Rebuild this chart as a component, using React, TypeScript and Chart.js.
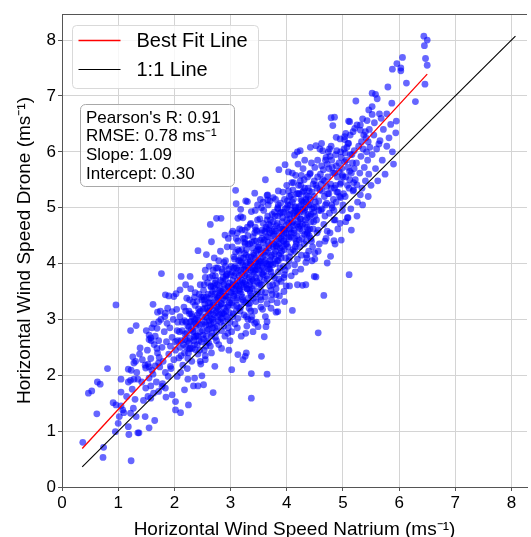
import React, { useEffect, useRef } from "react";
import { Chart, registerables } from "chart.js";

Chart.register(...registerables);

const FONT = "'Liberation Sans', Arial, sans-serif";

// Axis ticks
const xTicks = [0, 1, 2, 3, 4, 5, 6, 7, 8];
const yTicks = [0, 1, 2, 3, 4, 5, 6, 7, 8];
const xMax = 8.276;
const yMax = 8.467;

// Reference lines
const fitLineX = [0.36, 6.5];
const fitLineY = [0.69, 7.39];
const oneToOneX = [0.36, 8.07];
const oneToOneY = [0.36, 8.07];

// Texts
const xTitle = "Horizontal Wind Speed Natrium (ms\u207B\u00B9)";
const yTitle = "Horizontal Wind Speed Drone (ms\u207B\u00B9)";
const legendLabels = ["Best Fit Line", "1:1 Line"];
const statsLines = ["Pearson's R: 0.91", "RMSE: 0.78 ms\u207B\u00B9", "Slope: 1.09", "Intercept: 0.30"];

// Scatter values (x, y pairs)
const outliersLow = [
  0.37,0.80, 0.47,1.68, 0.53,1.72, 0.62,1.31, 0.63,1.88, 0.68,1.84, 0.73,0.53, 0.74,0.71,
  0.81,2.12, 0.91,1.51, 0.96,1.47, 0.95,0.99, 0.96,3.26, 1.00,1.14, 1.02,1.26, 1.05,1.45,
  1.05,1.93, 1.08,1.38, 1.10,1.33, 1.18,1.08, 1.19,0.94, 1.18,2.11, 1.22,1.32, 1.22,1.91,
  1.22,2.80, 1.23,0.47, 1.23,2.09, 1.26,2.33, 1.27,1.41, 1.28,1.93, 1.30,1.57, 1.31,2.25,
  1.32,1.26, 1.32,2.89, 1.35,0.97, 1.37,0.97, 1.35,1.93, 1.39,2.49, 1.43,2.28, 1.48,1.26,
  1.49,1.77, 1.49,2.13, 1.50,2.80, 1.53,1.62, 1.55,1.06, 1.55,2.15, 1.55,2.72, 1.58,1.59,
  1.58,1.81, 1.58,2.67, 1.60,2.09, 1.62,3.27, 1.63,1.68, 1.65,1.19, 1.66,2.17, 1.70,3.13,
  1.72,1.71, 1.72,2.22, 1.75,3.15, 1.77,3.82, 1.78,1.80, 1.84,1.77, 1.84,3.44, 1.85,1.61,
  1.90,3.42, 1.96,1.65, 1.99,3.41, 2.02,1.53, 2.02,1.38, 2.03,3.46, 2.11,1.33, 2.18,1.74,
  2.24,1.93, 2.25,1.47, 2.34,1.81, 2.36,1.95, 2.42,1.81, 2.49,1.99, 2.52,1.83, 2.69,1.69,
  3.37,1.59, 3.37,2.03, 3.65,2.02,
];
const edgePoints = [
  1.55,2.64, 1.69,2.84, 1.72,2.96, 1.84,3.11, 1.87,2.93, 1.96,3.14, 2.10,3.53, 2.12,3.77,
  2.28,3.77, 2.42,4.23, 2.57,4.16, 2.66,4.39, 2.75,4.81, 2.83,4.81, 2.64,4.70, 3.09,5.31,
  3.10,5.07, 3.27,5.12, 3.43,5.26, 3.13,4.81, 3.18,4.84, 3.37,4.93, 2.90,4.51, 2.96,4.45,
  3.02,4.54, 3.13,2.37, 3.26,2.34, 3.02,2.10, 2.72,2.16, 2.55,2.28, 2.46,2.25, 2.37,2.46,
  2.26,2.47, 2.19,2.64, 2.05,1.98, 1.93,2.16, 3.55,2.34, 3.60,2.69, 3.49,2.87, 3.37,2.99,
  3.28,3.05, 3.53,5.15, 3.66,5.23, 3.66,5.14, 3.30,5.11, 3.18,4.97, 4.66,3.43, 4.49,3.77,
  4.10,3.16, 3.96,3.32, 3.84,3.14, 3.81,3.44, 3.28,2.40, 3.22,2.28, 3.63,2.87, 3.43,2.93,
  4.72,4.01, 4.78,4.13, 4.84,4.41, 4.34,3.62, 4.19,3.62, 4.56,2.76, 4.52,3.76, 5.11,3.80,
  4.28,3.61, 4.97,4.42, 4.70,4.45, 5.09,4.82, 4.86,4.78, 4.50,4.19, 4.50,4.08, 4.36,4.10,
  5.19,5.32, 5.31,5.23, 5.25,5.41, 5.50,5.40, 3.65,2.96, 3.81,3.13,
];
const outliersHigh = [
  6.44,8.07, 6.50,8.00, 6.45,7.90, 6.47,7.67, 6.50,7.55, 6.46,7.21, 6.29,6.90, 6.06,7.69,
  5.96,7.58, 5.88,7.48, 6.03,7.50, 6.03,7.45, 6.13,7.23, 5.80,7.16, 5.87,6.87, 5.85,6.49,
  5.94,6.34, 5.90,5.78, 5.52,7.05, 5.58,7.03, 5.61,6.95, 5.23,6.91, 5.52,6.81, 5.46,6.75,
  5.52,6.67, 5.65,6.68, 5.78,6.68, 5.68,6.60, 5.56,6.52, 5.43,6.56, 5.35,6.59, 5.31,6.48,
  5.40,6.36, 5.37,6.30, 5.45,6.18, 5.64,6.14, 4.79,6.61, 4.85,6.62, 4.82,6.47, 5.10,6.55,
  5.12,6.54, 5.18,6.36, 5.05,6.33, 5.03,6.27, 4.88,6.26, 4.95,6.23, 5.09,6.15, 5.25,6.48,
  5.31,6.39, 4.42,6.08, 4.52,6.11, 4.62,6.15, 4.24,6.02, 4.14,5.94, 3.97,5.77, 3.86,5.68,
  4.03,5.64, 3.62,5.50, 5.08,4.82, 4.19,6.00,
];
const band10to20 = [
  1.05,1.70, 1.15,1.62, 1.25,1.75, 1.33,2.05, 1.42,1.88, 1.48,2.18, 1.28,2.22, 1.38,2.38,
  1.45,1.55, 1.18,1.88, 1.52,2.45, 1.55,1.95, 1.58,2.30, 1.60,2.85, 1.62,2.02, 1.64,2.55,
  1.66,2.70, 1.68,1.88, 1.70,2.40, 1.72,2.62, 1.74,2.15, 1.76,3.00, 1.78,2.50, 1.80,2.25,
  1.82,2.78, 1.84,2.05, 1.86,2.60, 1.88,3.20, 1.90,2.38, 1.92,2.85, 1.94,2.12, 1.96,2.68,
  1.98,3.00, 1.53,2.20, 1.63,2.92, 1.73,2.32, 1.83,3.05, 1.93,2.52, 1.99,2.28, 1.79,1.85,
  1.89,1.98, 1.69,2.48, 1.59,2.62,
];
const band20to25 = [
  2.02,2.45, 2.05,2.80, 2.08,2.31, 2.10,3.05, 2.12,2.62, 2.14,2.95, 2.15,2.18, 2.17,3.22,
  2.19,2.74, 2.21,2.51, 2.22,3.38, 2.24,2.88, 2.25,2.40, 2.27,3.10, 2.28,2.66, 2.30,2.97,
  2.31,2.25, 2.33,3.31, 2.34,2.79, 2.36,2.55, 2.37,3.48, 2.39,3.02, 2.40,2.71, 2.42,2.38,
  2.43,3.19, 2.45,2.90, 2.46,3.62, 2.48,2.60, 2.49,3.35, 2.04,3.18, 2.11,2.05, 2.18,2.98,
  2.23,2.12, 2.29,3.55, 2.35,2.93, 2.41,3.08, 2.47,2.20, 2.06,2.62, 2.26,2.86, 2.38,2.70,
  2.44,3.45, 2.20,3.62, 2.32,2.48, 2.16,2.55, 2.09,2.78,
  2.02,2.60, 2.06,2.95, 2.10,2.50, 2.14,2.80, 2.18,2.40, 2.22,2.75, 2.26,2.58, 2.30,3.10,
  2.34,2.62, 2.38,2.92, 2.42,2.70, 2.46,3.15, 2.50,2.80, 2.54,2.95, 2.58,3.20, 2.12,2.35,
  2.28,2.95, 2.44,2.62, 2.56,2.52, 2.20,3.15, 2.36,3.40, 2.52,3.40,
];
const band25to30 = [
  2.50,3.05, 2.51,2.72, 2.52,3.52, 2.53,2.45, 2.54,3.20, 2.55,3.88, 2.56,2.90, 2.57,3.40,
  2.58,2.60, 2.59,3.66, 2.60,3.12, 2.61,2.82, 2.62,3.95, 2.63,3.30, 2.64,2.52, 2.65,3.58,
  2.66,3.02, 2.67,2.75, 2.68,3.78, 2.69,3.25, 2.70,2.95, 2.71,4.10, 2.72,3.45, 2.73,2.68,
  2.74,3.70, 2.75,3.15, 2.76,2.88, 2.77,3.92, 2.78,3.38, 2.79,2.55, 2.80,3.60, 2.81,3.08,
  2.82,4.22, 2.83,3.28, 2.84,2.80, 2.85,3.85, 2.86,3.50, 2.87,2.98, 2.88,4.02, 2.89,3.20,
  2.90,2.70, 2.91,3.72, 2.92,3.42, 2.93,3.05, 2.94,4.30, 2.95,3.60, 2.96,2.85, 2.97,3.90,
  2.98,3.30, 2.99,2.62, 2.53,3.35, 2.58,3.02, 2.63,3.75, 2.68,2.85, 2.72,3.55, 2.77,3.22,
  2.81,3.48, 2.86,3.12, 2.91,3.95, 2.96,3.40, 2.55,2.35, 2.66,2.40, 2.84,2.48, 2.97,2.45,
  2.62,3.15, 2.74,3.92, 2.88,3.62, 2.79,4.05, 2.69,3.60, 2.93,3.80,
];
const band30to35 = [
  3.00,3.35, 3.01,3.95, 3.02,2.78, 3.03,4.30, 3.04,3.62, 3.05,3.10, 3.06,4.12, 3.07,3.45,
  3.08,2.92, 3.09,3.82, 3.10,4.45, 3.11,3.25, 3.12,3.70, 3.13,3.02, 3.14,4.05, 3.15,3.52,
  3.16,4.62, 3.17,3.15, 3.18,3.88, 3.19,2.70, 3.20,4.25, 3.21,3.40, 3.22,3.98, 3.23,3.65,
  3.24,3.08, 3.25,4.38, 3.26,3.78, 3.27,3.30, 3.28,4.15, 3.29,2.88, 3.30,3.55, 3.31,4.50,
  3.32,3.92, 3.33,3.20, 3.34,4.02, 3.35,3.68, 3.36,4.72, 3.37,3.42, 3.38,3.05, 3.39,4.28,
  3.40,3.85, 3.41,3.60, 3.42,4.40, 3.43,3.15, 3.44,4.10, 3.45,3.75, 3.46,2.95, 3.47,4.58,
  3.48,3.50, 3.49,4.00, 3.02,3.58, 3.06,3.78, 3.11,3.92, 3.15,4.22, 3.19,3.45, 3.23,4.10,
  3.28,3.62, 3.32,3.38, 3.36,3.88, 3.41,4.18, 3.45,3.32, 3.49,4.30, 3.04,4.58, 3.13,4.40,
  3.22,4.82, 3.31,3.00, 3.38,3.72, 3.47,3.90, 3.08,3.50, 3.17,3.68, 3.26,3.95, 3.34,4.35,
  3.43,3.95, 3.12,2.85, 3.27,2.75, 3.40,2.78, 3.20,3.80, 3.35,4.05, 3.09,4.20, 3.44,4.65,
];
const band35to40 = [
  3.50,3.65, 3.51,4.25, 3.52,4.80, 3.53,3.40, 3.54,4.05, 3.55,4.55, 3.56,3.82, 3.57,3.18,
  3.58,4.38, 3.59,4.95, 3.60,3.70, 3.61,4.15, 3.62,3.48, 3.63,4.65, 3.64,4.00, 3.65,3.28,
  3.66,4.48, 3.67,5.05, 3.68,3.90, 3.69,4.28, 3.70,3.60, 3.71,4.78, 3.72,4.12, 3.73,3.35,
  3.74,4.58, 3.75,3.98, 3.76,5.18, 3.77,4.35, 3.78,3.75, 3.79,4.85, 3.80,4.22, 3.81,3.55,
  3.82,4.68, 3.83,4.05, 3.84,5.00, 3.85,3.85, 3.86,4.45, 3.87,3.42, 3.88,4.90, 3.89,4.18,
  3.90,3.68, 3.91,4.62, 3.92,4.30, 3.93,5.28, 3.94,3.95, 3.95,4.52, 3.96,3.80, 3.97,4.98,
  3.98,4.10, 3.99,3.60, 3.52,4.02, 3.56,4.60, 3.60,4.42, 3.64,3.78, 3.68,4.70, 3.72,3.85,
  3.76,4.50, 3.80,4.00, 3.84,4.40, 3.88,3.92, 3.92,4.75, 3.96,4.25, 3.54,3.22, 3.62,3.05,
  3.70,4.05, 3.78,4.62, 3.86,4.15, 3.94,4.40, 3.58,3.92, 3.66,4.20, 3.74,4.88, 3.82,3.65,
  3.90,4.92, 3.98,4.55, 3.55,5.00, 3.65,5.22, 3.85,5.30, 3.72,3.20, 3.83,3.30, 3.95,3.50,
];
const band40to45 = [
  4.00,4.35, 4.01,4.88, 4.02,3.95, 4.03,5.30, 4.04,4.60, 4.05,4.12, 4.06,5.05, 4.07,4.48,
  4.08,3.78, 4.09,5.45, 4.10,4.75, 4.11,4.25, 4.12,5.15, 4.13,4.55, 4.14,3.98, 4.15,4.95,
  4.16,5.58, 4.17,4.40, 4.18,4.85, 4.19,4.08, 4.20,5.25, 4.21,4.65, 4.22,5.02, 4.23,4.30,
  4.24,5.48, 4.25,4.80, 4.26,4.15, 4.27,5.12, 4.28,4.58, 4.29,5.70, 4.30,4.92, 4.31,4.35,
  4.32,5.35, 4.33,4.70, 4.34,4.02, 4.35,5.10, 4.36,4.52, 4.37,5.55, 4.38,4.88, 4.39,4.22,
  4.40,5.30, 4.41,4.62, 4.42,5.05, 4.43,4.45, 4.44,5.80, 4.45,4.98, 4.46,4.30, 4.47,5.42,
  4.48,4.75, 4.49,5.20, 4.03,4.72, 4.08,5.22, 4.13,4.85, 4.18,4.50, 4.23,4.92, 4.28,5.28,
  4.33,5.00, 4.38,4.60, 4.43,4.88, 4.48,5.00, 4.05,3.60, 4.15,3.85, 4.25,3.90, 4.35,4.15,
  4.45,4.05, 4.10,5.62, 4.20,5.78, 4.32,5.85, 4.42,5.62,
];
const band45to50 = [
  4.50,4.85, 4.52,5.40, 4.54,4.55, 4.55,5.85, 4.57,5.12, 4.58,4.35, 4.60,5.60, 4.61,4.95,
  4.63,5.30, 4.64,6.02, 4.66,4.70, 4.67,5.48, 4.69,5.05, 4.70,5.90, 4.72,4.58, 4.73,5.25,
  4.75,5.70, 4.76,4.90, 4.78,5.42, 4.79,6.10, 4.81,5.00, 4.82,5.62, 4.84,4.78, 4.85,5.35,
  4.87,5.95, 4.88,5.10, 4.90,5.55, 4.91,4.62, 4.93,5.80, 4.94,5.20, 4.96,6.00, 4.97,5.45,
  4.99,4.95, 4.53,5.02, 4.62,5.75, 4.71,5.38, 4.80,5.85, 4.89,5.28, 4.98,5.70, 4.56,4.22,
  4.68,4.40, 4.77,4.55, 4.86,4.35, 4.95,4.72, 4.59,6.05, 4.74,6.00,
];
const band50to60 = [
  5.00,5.55, 5.02,6.05, 5.04,5.20, 5.06,5.85, 5.08,5.40, 5.10,6.15, 5.12,5.65, 5.14,4.98,
  5.16,5.95, 5.18,5.30, 5.20,6.02, 5.22,5.50, 5.24,5.80, 5.26,5.10, 5.28,6.10, 5.30,5.62,
  5.32,5.92, 5.34,5.35, 5.36,6.05, 5.38,5.72, 5.40,5.48, 5.42,6.00, 5.44,5.85, 5.46,5.60,
  5.48,6.08, 5.05,4.75, 5.15,4.60, 5.25,4.85, 5.35,5.05, 5.45,5.20, 5.03,6.22, 5.13,6.30,
  5.21,6.42, 5.33,6.18, 5.41,6.25, 5.47,6.40, 5.52,5.95, 5.55,6.30, 5.58,5.70, 5.60,6.05,
  5.62,5.48, 5.66,6.20, 5.70,5.85, 5.72,6.40, 5.75,5.60, 5.78,6.10, 5.82,6.25, 5.88,6.00,
  5.95,6.55,
];
const core22to30 = [
  2.21,2.95, 2.23,2.62, 2.26,3.15, 2.28,2.48, 2.30,2.82, 2.32,3.05, 2.35,2.68, 2.37,3.25,
  2.39,2.88, 2.41,2.55, 2.44,3.12, 2.46,2.78, 2.48,3.40, 2.50,2.92, 2.52,2.65, 2.54,3.28,
  2.56,3.05, 2.58,2.80, 2.60,3.45, 2.62,2.98, 2.64,3.22, 2.66,2.70, 2.68,3.50, 2.70,3.08,
  2.72,2.85, 2.74,3.35, 2.76,3.62, 2.78,2.98, 2.80,3.25, 2.82,3.70, 2.84,3.02, 2.86,3.38,
  2.88,2.88, 2.90,3.55, 2.92,3.15, 2.94,3.82, 2.96,3.25, 2.98,3.65, 2.99,2.95, 2.24,2.30,
  2.33,2.78, 2.42,2.98, 2.51,3.18, 2.57,2.70, 2.63,3.38, 2.69,3.88, 2.75,2.62, 2.83,3.50,
  2.89,3.35, 2.95,2.75, 2.27,3.35, 2.36,3.00, 2.45,2.45, 2.53,3.62, 2.61,2.58, 2.67,3.18,
  2.73,3.78, 2.79,3.42, 2.85,3.10, 2.91,4.05, 2.97,3.50, 2.40,3.32, 2.55,3.75, 2.65,2.92,
  2.77,3.05, 2.87,3.75,
];
const core30to38 = [
  3.01,3.48, 3.03,3.85, 3.05,3.25, 3.07,4.08, 3.09,3.62, 3.11,3.38, 3.13,4.25, 3.15,3.78,
  3.17,3.50, 3.19,4.02, 3.21,3.70, 3.23,3.32, 3.25,4.18, 3.27,3.88, 3.29,3.55, 3.31,4.35,
  3.33,3.75, 3.35,3.48, 3.37,4.12, 3.39,3.92, 3.41,3.38, 3.43,4.55, 3.45,4.02, 3.47,3.68,
  3.49,4.25, 3.51,3.88, 3.53,4.42, 3.55,3.62, 3.57,4.12, 3.59,3.85, 3.61,4.58, 3.63,4.22,
  3.65,3.72, 3.67,4.38, 3.69,3.98, 3.71,4.68, 3.73,4.15, 3.75,3.78, 3.77,4.52, 3.79,4.08,
  3.04,3.05, 3.12,4.55, 3.18,3.22, 3.24,3.58, 3.30,4.65, 3.36,3.15, 3.42,3.82, 3.48,4.78,
  3.54,3.35, 3.60,4.02, 3.66,4.85, 3.72,3.52, 3.78,4.92, 3.06,3.92, 3.14,3.60, 3.22,4.45,
  3.28,4.02, 3.34,3.62, 3.40,4.48, 3.46,4.22, 3.52,3.75, 3.58,4.72, 3.64,4.48, 3.70,3.90,
  3.76,4.30, 3.10,3.15, 3.20,4.60, 3.32,3.28, 3.44,4.95, 3.56,3.95, 3.68,4.60, 3.74,3.45,
  3.26,4.35, 3.38,3.55, 3.50,4.05, 3.62,3.40, 3.16,4.05, 3.46,3.45,
];
const core38to46 = [
  3.81,4.32, 3.83,4.72, 3.85,4.05, 3.87,4.55, 3.89,5.08, 3.91,4.22, 3.93,4.82, 3.95,4.40,
  3.97,3.88, 3.99,4.68, 4.01,5.12, 4.03,4.48, 4.05,4.88, 4.07,4.20, 4.09,4.72, 4.11,5.32,
  4.13,4.60, 4.15,5.02, 4.17,4.35, 4.19,4.92, 4.21,5.40, 4.23,4.62, 4.25,5.15, 4.27,4.45,
  4.29,4.98, 4.31,5.50, 4.33,4.78, 4.35,5.22, 4.37,4.55, 4.39,5.05, 4.41,5.60, 4.43,4.75,
  4.45,5.28, 4.47,4.62, 4.49,5.48, 4.51,5.10, 4.53,4.78, 4.55,5.55, 4.57,4.95, 4.59,5.32,
  3.84,4.98, 3.90,4.45, 3.96,5.15, 4.02,4.30, 4.08,4.95, 4.14,4.22, 4.20,4.75, 4.26,5.58,
  4.32,4.52, 4.38,5.35, 4.44,4.40, 4.50,5.72, 4.56,4.60, 3.88,4.28, 3.94,4.62, 4.00,5.00,
  4.06,4.62, 4.12,4.90, 4.18,5.25, 4.24,4.68, 4.30,5.10, 4.36,4.82, 4.42,5.15, 4.48,4.92,
  4.54,5.35, 3.86,3.72, 4.04,4.05, 4.22,4.42, 4.40,4.50,
];
const core46to52 = [
  4.61,5.42, 4.63,4.98, 4.65,5.68, 4.67,5.20, 4.69,5.85, 4.71,5.08, 4.73,5.55, 4.75,5.25,
  4.77,5.92, 4.79,5.35, 4.81,5.72, 4.83,5.15, 4.85,5.62, 4.87,5.40, 4.89,6.02, 4.91,5.28,
  4.93,5.65, 4.95,5.42, 4.97,5.90, 4.99,5.58, 5.01,5.25, 5.03,5.82, 5.05,5.55, 5.07,6.08,
  5.09,5.72, 5.11,5.35, 5.13,5.95, 5.15,5.62, 5.17,5.80, 5.19,5.45, 4.64,5.50, 4.72,5.78,
  4.80,5.05, 4.88,5.75, 4.96,5.18, 5.04,5.98, 5.12,5.50, 5.20,5.70, 4.68,4.85, 4.84,4.95,
  5.00,5.05, 4.76,6.05,
];
const coreDense = [
  2.60,3.30, 2.62,2.90, 2.64,3.10, 2.66,3.45, 2.68,3.00, 2.70,3.30, 2.72,3.65, 2.74,3.12,
  2.76,3.40, 2.78,3.18, 2.80,3.52, 2.82,2.95, 2.84,3.28, 2.86,3.68, 2.88,3.10, 2.90,3.42,
  2.92,3.78, 2.94,3.22, 2.96,3.58, 2.98,3.12, 3.00,3.80, 3.02,3.30, 3.04,3.70, 3.06,3.42,
  3.08,3.95, 3.10,3.60, 3.12,3.35, 3.14,3.88, 3.16,3.55, 3.18,4.10, 3.20,3.62, 3.22,3.35,
  3.24,3.90, 3.26,3.68, 3.28,4.25, 3.30,3.80, 3.32,4.12, 3.34,3.52, 3.36,4.00, 3.38,4.38,
  3.40,3.70, 3.42,4.15, 3.44,3.88, 3.46,4.40, 3.48,3.95, 3.50,4.30, 3.52,3.62, 3.54,4.18,
  3.56,4.45, 3.58,3.80, 3.60,4.28, 3.62,4.05, 3.64,4.62, 3.66,3.95, 3.68,4.32, 3.70,4.55,
  3.72,4.00, 3.74,4.40, 3.76,4.75, 3.78,4.18, 3.80,4.58, 3.82,4.30, 3.84,4.85, 3.86,4.35,
  3.88,4.65, 3.90,4.10, 3.92,4.50, 3.94,4.92, 3.96,4.60, 3.98,4.35, 4.00,4.78, 4.02,5.05,
  4.04,4.45, 4.06,4.80, 4.08,4.55, 4.10,5.10, 4.12,4.68, 4.14,4.45, 4.16,5.00, 4.18,4.70,
  4.20,4.95, 4.22,5.25, 4.24,4.80, 4.26,5.05, 4.28,4.70, 4.30,5.30, 4.32,4.95, 4.34,5.15,
  4.36,4.65, 4.38,5.20, 4.40,4.85, 2.65,3.60, 2.75,2.78, 2.85,3.90, 2.95,3.00, 3.05,3.55,
  3.15,3.20, 3.25,4.45, 3.35,3.30, 3.45,4.60, 3.55,3.50, 3.65,4.78, 3.75,3.62, 3.85,5.05,
  3.95,3.75, 4.05,5.20, 4.15,4.30, 4.25,5.40, 4.35,4.40, 3.58,5.10, 3.70,5.12, 3.80,5.15,
  3.48,5.05, 4.00,5.40, 4.12,5.45, 3.35,4.70, 3.26,4.60,
];

const scatterGroups = [
  outliersLow, edgePoints, outliersHigh, band10to20, band20to25, band25to30,
  band30to35, band35to40, band40to45, band45to50, band50to60,
  core22to30, core30to38, core38to46, core46to52, coreDense,
];

function toPoints(flat: number[]) {
  const pts: { x: number; y: number }[] = [];
  for (let i = 0; i + 1 < flat.length; i += 2) pts.push({ x: flat[i], y: flat[i + 1] });
  return pts;
}
function zipPoints(xs: number[], ys: number[]) {
  return xs.map((x, i) => ({ x, y: ys[i] }));
}

const decorPlugin = {
  id: "decor",
  afterDraw(chart: any) {
    const ctx: CanvasRenderingContext2D = chart.ctx;
    const ca = chart.chartArea;
    ctx.save();
    // top spine
    ctx.strokeStyle = "#555555";
    ctx.lineWidth = 1;
    ctx.beginPath();
    ctx.moveTo(ca.left, Math.round(ca.top) + 0.5);
    ctx.lineTo(ca.right, Math.round(ca.top) + 0.5);
    ctx.stroke();

    const rrect = (x: number, y: number, w: number, h: number, r: number) => {
      ctx.beginPath();
      ctx.moveTo(x + r, y);
      ctx.lineTo(x + w - r, y);
      ctx.arcTo(x + w, y, x + w, y + r, r);
      ctx.lineTo(x + w, y + h - r);
      ctx.arcTo(x + w, y + h, x + w - r, y + h, r);
      ctx.lineTo(x + r, y + h);
      ctx.arcTo(x, y + h, x, y + h - r, r);
      ctx.lineTo(x, y + r);
      ctx.arcTo(x, y, x + r, y, r);
      ctx.closePath();
    };

    // legend
    const lx = ca.left + 10.5;
    const ly = ca.top + 11.5;
    rrect(lx, ly, 186, 63, 4);
    ctx.fillStyle = "rgba(255,255,255,0.8)";
    ctx.fill();
    ctx.strokeStyle = "#d9d9d9";
    ctx.stroke();
    const colors = ["#ff0000", "#000000"];
    const widths = [1.3, 1.1];
    ctx.font = `20px ${FONT}`;
    ctx.textBaseline = "middle";
    ctx.textAlign = "left";
    legendLabels.forEach((lab, i) => {
      const yy = ly + 15 + i * 29;
      ctx.strokeStyle = colors[i];
      ctx.lineWidth = widths[i];
      ctx.beginPath();
      ctx.moveTo(lx + 6, yy);
      ctx.lineTo(lx + 48, yy);
      ctx.stroke();
      ctx.fillStyle = "#000";
      ctx.fillText(lab, lx + 64, yy + 1);
    });

    // stats box
    const sx = ca.left + 18.5;
    const sy = ca.top + 90.5;
    rrect(sx, sy, 154, 82, 5);
    ctx.fillStyle = "rgba(255,255,255,0.8)";
    ctx.fill();
    ctx.strokeStyle = "#a8a8a8";
    ctx.lineWidth = 1;
    ctx.stroke();
    ctx.font = `17px ${FONT}`;
    ctx.textBaseline = "alphabetic";
    ctx.fillStyle = "#000";
    statsLines.forEach((t, i) => {
      ctx.fillText(t, sx + 5.5, sy + 18.2 + i * 18.7);
    });
    ctx.restore();
  },
};

export default function App() {
  const ref = useRef<HTMLCanvasElement>(null);
  useEffect(() => {
    const canvas = ref.current!;
    Chart.defaults.font.family = FONT;
    const scatterPoints = scatterGroups.flatMap(toPoints);
    const chart = new Chart(canvas, {
      type: "scatter",
      data: {
        datasets: [
          {
            label: legendLabels[0],
            data: zipPoints(fitLineX, fitLineY),
            showLine: true,
            borderColor: "#ff0000",
            borderWidth: 1.3,
            pointRadius: 0,
            fill: false,
          } as any,
          {
            label: legendLabels[1],
            data: zipPoints(oneToOneX, oneToOneY),
            showLine: true,
            borderColor: "#000000",
            borderWidth: 1.1,
            pointRadius: 0,
            fill: false,
          } as any,
          {
            label: "data",
            data: scatterPoints,
            backgroundColor: "rgba(0,0,255,0.6)",
            borderWidth: 0,
            pointRadius: 3.4,
          } as any,
        ],
      },
      options: {
        responsive: false,
        animation: false,
        devicePixelRatio: 1,
        layout: { padding: { top: 14, right: 0, left: 0, bottom: 0 } },
        plugins: { legend: { display: false }, tooltip: { enabled: false } },
        scales: {
          x: {
            type: "linear",
            min: 0,
            max: xMax,
            afterFit: (s: any) => {
              s.height = 560 - 487;
            },
            afterBuildTicks: (s: any) => {
              s.ticks = xTicks.map((v) => ({ value: v }));
            },
            ticks: {
              font: { size: 17, family: FONT },
              color: "#000",
              padding: 2,
              callback: (v: any) => String(v),
            },
            grid: { color: "#d4d4d4", lineWidth: 1, tickLength: 4, tickColor: "#555555" },
            border: { color: "#555555", width: 1 },
            title: {
              display: true,
              text: xTitle,
              font: { size: 19, family: FONT },
              color: "#000",
              padding: { top: 0, bottom: 18.6 },
            },
          },
          y: {
            type: "linear",
            min: 0,
            max: yMax,
            afterFit: (s: any) => {
              s.width = 62;
            },
            afterBuildTicks: (s: any) => {
              s.ticks = yTicks.map((v) => ({ value: v }));
            },
            ticks: {
              font: { size: 17, family: FONT },
              color: "#000",
              padding: 2,
              callback: (v: any) => String(v),
            },
            grid: { color: "#d4d4d4", lineWidth: 1, tickLength: 4, tickColor: "#555555" },
            border: { color: "#555555", width: 1 },
            title: {
              display: true,
              text: yTitle,
              font: { size: 19, family: FONT },
              color: "#000",
              padding: { top: 13.6, bottom: 0 },
            },
          },
        },
      },
      plugins: [decorPlugin],
    });
    return () => chart.destroy();
  }, []);
  return (
    <div
      style={{
        position: "fixed",
        left: 0,
        top: 0,
        width: 531,
        height: 537,
        overflow: "hidden",
        background: "#fff",
      }}
    >
      <canvas ref={ref} width={531} height={560} style={{ display: "block", width: 531, height: 560 }} />
    </div>
  );
}
